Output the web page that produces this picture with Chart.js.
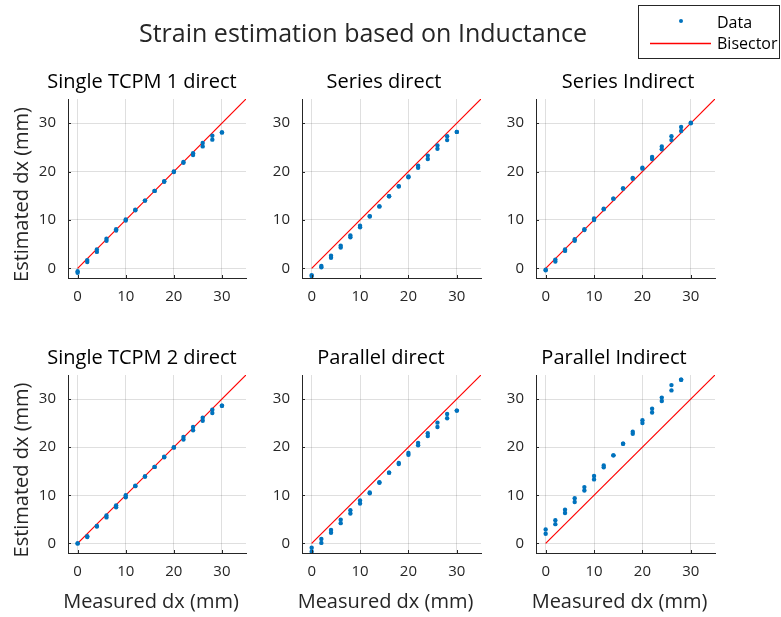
<!DOCTYPE html>
<html>
<head>
<meta charset="utf-8">
<script src="https://cdn.jsdelivr.net/npm/chart.js@4.4.0/dist/chart.umd.min.js"></script>
<style>
  body { margin: 0; background: #fff; }
  #fig { position: relative; width: 781px; height: 617px; }
  #fig canvas { position: absolute; left: 0; top: 0; }
</style>
</head>
<body>
<div id="fig"></div>
<script>
// Datos: desplazamiento medido (mm) y dos medidas estimadas por panel
const measured = [0, 2, 4, 6, 8, 10, 12, 14, 16, 18, 20, 22, 24, 26, 28, 30];
const xTicks = [0, 10, 20, 30];
const yTicks = [0, 10, 20, 30];

const tcpm1A = [-0.9, 1.7, 3.9, 6.1, 8.1, 10.1, 12.1, 14.0, 16.0, 18.0, 20.0, 22.0, 23.8, 25.9, 27.4, 28.1];
const tcpm1B = [-0.6, 1.3, 3.4, 5.7, 7.8, 9.9, 12.0, 14.0, 16.0, 17.9, 19.9, 21.8, 23.4, 25.2, 26.6, 28.1];

const seriesDirA = [-1.4, 0.5, 2.6, 4.7, 6.8, 8.8, 10.8, 12.8, 14.9, 17.0, 19.0, 21.2, 23.3, 25.4, 27.3, 28.2];
const seriesDirB = [-1.6, 0.2, 2.2, 4.3, 6.4, 8.5, 10.7, 12.8, 14.9, 16.9, 18.8, 20.8, 22.6, 24.7, 26.5, 28.2];

const seriesIndA = [-0.3, 1.8, 3.9, 6.0, 8.1, 10.3, 12.3, 14.4, 16.5, 18.7, 20.8, 23.0, 25.2, 27.3, 29.2, 30.1];
const seriesIndB = [-0.4, 1.4, 3.6, 5.7, 7.9, 10.0, 12.2, 14.4, 16.5, 18.5, 20.6, 22.6, 24.6, 26.5, 28.4, 30.0];

const tcpm2A = [0.0, 1.5, 3.6, 5.8, 7.9, 10.0, 12.0, 13.9, 15.9, 18.0, 20.0, 22.1, 24.2, 26.1, 27.8, 28.6];
const tcpm2B = [0.0, 1.3, 3.5, 5.4, 7.5, 9.6, 11.9, 13.9, 15.9, 17.9, 19.9, 21.6, 23.5, 25.5, 27.1, 28.6];

const parDirA = [-0.9, 0.9, 2.8, 4.9, 6.9, 8.9, 10.6, 12.7, 14.7, 16.7, 18.8, 20.9, 22.9, 25.1, 26.9, 27.6];
const parDirB = [-1.7, 0.1, 2.2, 4.2, 6.2, 8.3, 10.4, 12.6, 14.7, 16.5, 18.4, 20.4, 22.3, 24.2, 26.0, 27.6];

const parIndA = [2.9, 4.8, 7.0, 9.4, 11.7, 14.0, 16.2, 18.3, 20.7, 23.2, 25.6, 28.0, 30.3, 32.9, 34.0, null];
const parIndB = [2.0, 4.0, 6.3, 8.6, 11.0, 13.3, 15.8, 18.3, 20.7, 22.8, 25.0, 27.2, 29.6, 31.8, 34.0, null];

const bisectorX = [0, 35];

const panelTitles = ['Single TCPM 1 direct', 'Series direct', 'Series Indirect',
                     'Single TCPM 2 direct', 'Parallel direct', 'Parallel Indirect'];
const panelSeries = [[tcpm1A, tcpm1B], [seriesDirA, seriesDirB], [seriesIndA, seriesIndB],
                     [tcpm2A, tcpm2B], [parDirA, parDirB], [parIndA, parIndB]];

// Posiciones de cada panel (area de dibujo en pixeles)
const cols = [[68, 246], [302, 481], [536, 715]];
const rows = [[99, 278], [375, 553]];
const titleX = [142, 384, 628, 142, 381, 614];

const W = 781, H = 617, YW = 30, XH = 25;
const FONT = "'Open Sans', 'DejaVu Sans', sans-serif";
const BLUE = '#0072BD', RED = '#FF0000', TXT = '#262626';

// Textos del panel: titulo, etiquetas de eje y marcas interiores
const panelText = {
  id: 'panelText',
  afterDraw(chart, args, opts) {
    const ctx = chart.ctx, a = chart.chartArea;
    ctx.save();
    // marcas hacia dentro
    ctx.strokeStyle = TXT; ctx.lineWidth = 1;
    chart.scales.x.ticks.forEach(t => {
      const px = Math.round(chart.scales.x.getPixelForValue(t.value)) + 0.5;
      ctx.beginPath(); ctx.moveTo(px, a.bottom); ctx.lineTo(px, a.bottom - 3); ctx.stroke();
    });
    chart.scales.y.ticks.forEach(t => {
      const py = Math.round(chart.scales.y.getPixelForValue(t.value)) + 0.5;
      ctx.beginPath(); ctx.moveTo(a.left, py); ctx.lineTo(a.left + 3, py); ctx.stroke();
    });
    ctx.fillStyle = '#000';
    ctx.textAlign = 'center'; ctx.textBaseline = 'middle';
    ctx.font = '20px ' + FONT;
    ctx.fillText(opts.title, opts.titleX, a.top - 17);
    ctx.fillStyle = TXT;
    ctx.font = '20px ' + FONT;
    if (opts.yLabel) {
      ctx.save();
      ctx.translate(22, (a.top + a.bottom) / 2 + 6);
      ctx.rotate(-Math.PI / 2);
      ctx.fillText('Estimated dx (mm)', 0, 0);
      ctx.restore();
    }
    if (opts.xLabel) {
      ctx.fillText('Measured dx (mm)', (a.left + a.right) / 2 - 6, 602);
    }
    // titulo general y leyenda (solo una vez)
    if (opts.figure) {
      ctx.fillStyle = TXT;
      ctx.font = '25px ' + FONT;
      ctx.fillText('Strain estimation based on Inductance', 363, 35);
      ctx.fillStyle = '#fff';
      ctx.fillRect(638.5, 5.5, 141, 53);
      ctx.strokeStyle = '#262626'; ctx.lineWidth = 1;
      ctx.strokeRect(638.5, 5.5, 141, 53);
      ctx.fillStyle = BLUE;
      ctx.beginPath(); ctx.arc(681, 21, 2, 0, Math.PI * 2); ctx.fill();
      ctx.strokeStyle = RED; ctx.lineWidth = 1.5;
      ctx.beginPath(); ctx.moveTo(650, 43.5); ctx.lineTo(711, 43.5); ctx.stroke();
      ctx.fillStyle = '#000';
      ctx.textAlign = 'left';
      ctx.font = '16px ' + FONT;
      ctx.fillText('Data', 717, 23);
      ctx.fillText('Bisector', 717, 44);
    }
    ctx.restore();
  }
};

function scaleOpts(ticks, isX) {
  return {
    type: 'linear',
    min: -2, max: 35,
    afterBuildTicks: s => { s.ticks = ticks.map(v => ({ value: v })); },
    afterFit: s => { if (isX) s.height = XH; else s.width = YW; },
    grid: { color: 'rgba(38,38,38,0.15)', drawTicks: false },
    border: { color: TXT, width: 1 },
    ticks: { color: TXT, padding: isX ? 10 : 12, font: { family: FONT, size: 15 } }
  };
}

const fig = document.getElementById('fig');
panelTitles.forEach((title, i) => {
  const c = cols[i % 3], r = rows[Math.floor(i / 3)];
  const canvas = document.createElement('canvas');
  canvas.width = W; canvas.height = H;
  fig.appendChild(canvas);

  const pts = [];
  panelSeries[i].forEach(serie => {
    serie.forEach((v, k) => { if (v !== null) pts.push({ x: measured[k], y: v }); });
  });

  new Chart(canvas, {
    type: 'scatter',
    data: {
      datasets: [
        { label: 'Data', data: pts, pointRadius: 2.2, pointBorderWidth: 0, backgroundColor: BLUE },
        { label: 'Bisector', type: 'line', data: bisectorX.map(v => ({ x: v, y: v })),
          borderColor: RED, borderWidth: 1.2, pointRadius: 0, fill: false }
      ]
    },
    options: {
      responsive: false, animation: false,
      layout: { padding: { left: c[0] - YW, right: W - c[1], top: r[0], bottom: H - XH - r[1] } },
      plugins: {
        legend: { display: false }, tooltip: { enabled: false },
        panelText: { title: title, titleX: titleX[i], yLabel: i % 3 === 0, xLabel: i >= 3, figure: i === 0 }
      },
      scales: { x: scaleOpts(xTicks, true), y: scaleOpts(yTicks, false) }
    },
    plugins: [panelText]
  });
});
</script>
</body>
</html>
